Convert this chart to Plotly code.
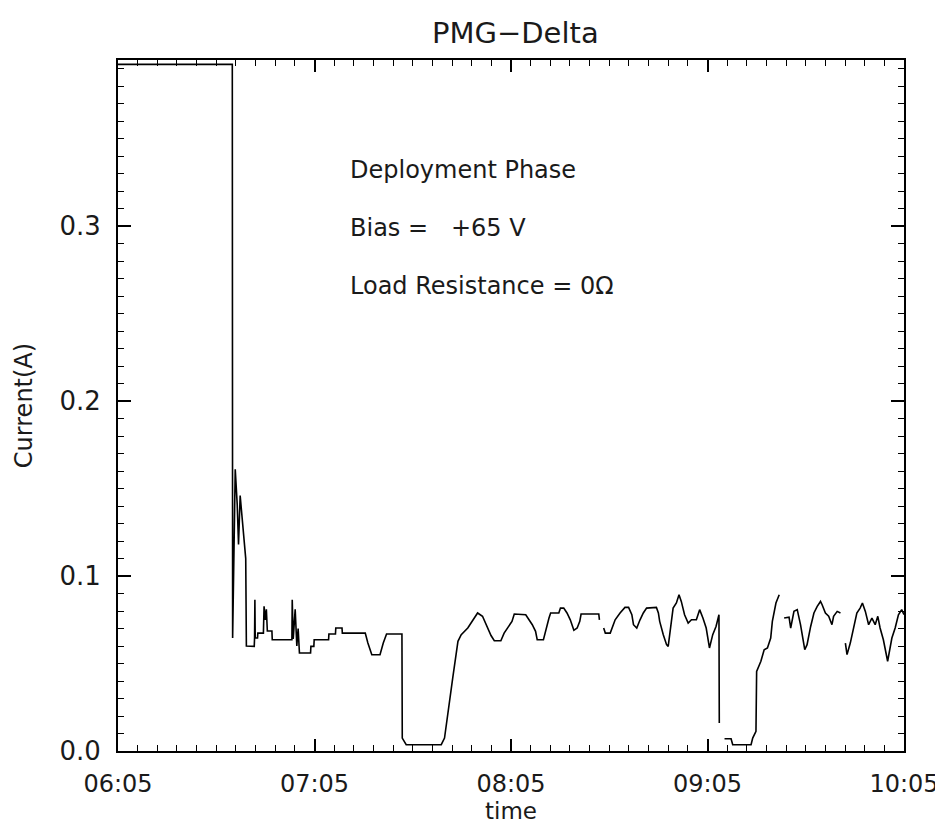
import plotly.graph_objects as go

# minutes after 06:05 and probe current in amperes (None = data gap)
minutes = [
    0, 34.9, 35.0, 35.8, 36.4, 36.8, 37.3, 37.8, 38.6, 39.0, 39.2,
    41.6, 41.7, 41.8, 41.9, 42.6, 42.7, 44.4, 44.6, 45.0, 45.3, 45.6, 47.0, 47.1,
    53.1, 53.2, 53.5, 54.1, 54.6, 55.0, 55.4, 58.8, 58.9, 59.8, 59.9,
    64.3, 64.4, 66.4, 66.5, 68.4, 68.5, 75.5, 76.3, 77.5, 80.0, 81.0, 82.0,
    86.7, 86.8, 88.0, 98.7, 99.7, 101.2, 102.2, 103.8, 104.8, 106.8, 108.3,
    109.8, 111.3, 112.4, 113.9, 114.9, 116.9, 117.9, 119.4, 120.3, 121.0,
    123.5, 124.5, 125.5, 126.5, 127.5, 128.0, 129.9, 130.6, 131.6, 132.1,
    134.6, 135.1, 136.1, 137.1, 138.1, 139.2, 140.2, 141.0, 141.4, 146.8,
    147.0, 147.6, 148.3, 148.8, 150.3, 150.8, 151.8, 153.3, 154.8, 155.9,
    156.9, 157.4, 158.4, 159.4, 160.4, 161.4, 164.4, 165.0, 165.4, 166.5,
    167.5, 168.0, 168.5, 169.5, 170.5, 171.3, 172.0, 173.0, 174.1, 175.1,
    176.6, 177.6, 178.6, 179.6, 180.6, 181.6, 182.6, 183.5, 183.6, 184.4,
    185.2, 187.2, 187.7, 193.3, 193.8, 194.8, 195.0, 195.6, 196.3, 197.3,
    198.3, 199.3, 199.8, 200.9, 201.9, 202.6, 203.4, 204.9, 205.4, 206.4,
    207.4, 208.4, 209.7, 210.4, 211.5, 212.5, 213.5, 214.5, 215.0, 216.0,
    217.0, 218.0, 218.5, 219.6, 220.6, 221.3, 222.1, 222.6, 223.6, 224.6,
    225.6, 226.6, 227.3, 228.2, 229.2, 230.2, 231.2, 232.0, 232.7, 233.7,
    235.0, 236.3, 237.3, 238.3, 239.3, 240.0,
]
current = [
    0.3925, 0.3925, 0.0646, 0.161, 0.141, 0.118, 0.146, 0.135, 0.115, 0.110, 0.060,
    0.0598, 0.0646, 0.0865, 0.0646, 0.0646, 0.0674, 0.0674, 0.0827, 0.075, 0.081, 0.0686, 0.0686, 0.0636,
    0.0636, 0.0865, 0.064, 0.081, 0.060, 0.070, 0.056, 0.056, 0.0598, 0.0598, 0.0636,
    0.0636, 0.0669, 0.0669, 0.0703, 0.0703, 0.0674, 0.0674, 0.0617, 0.055, 0.055, 0.0617, 0.0669,
    0.0669, 0.0074, 0.0036, 0.0036, 0.0074, 0.0265, 0.0417, 0.0627, 0.0665, 0.0703, 0.075,
    0.0789, 0.077, 0.0722, 0.066, 0.063, 0.063, 0.0674, 0.0712, 0.0741, 0.0783,
    0.0783, 0.0779, 0.075, 0.0722, 0.0684, 0.0636, 0.0636, 0.0693, 0.076, 0.0789,
    0.0789, 0.0817, 0.0817, 0.0789, 0.075, 0.069, 0.0703, 0.0741, 0.0783, 0.0783,
    0.075, None, 0.0703, 0.0674, 0.0674, 0.0703, 0.075, 0.0789, 0.0821, 0.0821,
    0.0779, 0.0722, 0.0703, 0.075, 0.0789, 0.0817, 0.0821, 0.0789, 0.0741, 0.0665,
    0.0608, 0.0598, 0.0684, 0.0817, 0.0846, 0.0893, 0.0855, 0.0779, 0.0731, 0.075,
    0.075, 0.0808, 0.076, 0.0703, 0.0589, 0.0665, 0.0712, 0.0779, 0.016, None,
    0.007, 0.007, 0.0036, 0.0036, 0.0074, 0.0112, 0.0455, 0.0484, 0.0513, 0.0579,
    0.0589, 0.0646, 0.0741, 0.0846, 0.0893, None, 0.076, 0.0765, 0.0703, 0.0798,
    0.0808, 0.0722, 0.0579, 0.0608, 0.0712, 0.0789, 0.0827, 0.0855, 0.0836, 0.0789,
    0.077, 0.0722, 0.077, 0.0798, 0.0789, None, 0.0617, 0.0551, 0.0617, 0.0712,
    0.0789, 0.0817, 0.0846, 0.0798, 0.0722, 0.076, 0.0722, 0.077, 0.0703, 0.0636,
    0.0513, 0.0646, 0.0703, 0.0779, 0.0808, 0.078,
]

tick_minutes = [0, 60, 120, 180, 240]
tick_labels = ["06:05", "07:05", "08:05", "09:05", "10:05"]

info_lines = ["Deployment Phase", "Bias =   +65 V", "Load Resistance = 0\u03a9"]
info_y = [0.332, 0.299, 0.266]

font = "DejaVu Sans"
ink = "#1a1a1a"

fig = go.Figure()
fig.add_trace(go.Scatter(x=minutes, y=current, mode="lines",
                         line=dict(color="black", width=1.6),
                         connectgaps=False, showlegend=False))

for txt, yy in zip(info_lines, info_y):
    fig.add_annotation(x=70.1, y=yy, text=txt, showarrow=False,
                       xanchor="left", yanchor="middle",
                       font=dict(family=font, size=24, color=ink))

fig.update_layout(
    width=943, height=827,
    margin=dict(l=110, r=44, t=52, b=84),
    plot_bgcolor="white", paper_bgcolor="white",
    font=dict(family=font, size=26, color=ink),
    title=dict(text="PMG\u2212Delta", x=0.538, xref="container", xanchor="center",
               y=0.97, yref="container", yanchor="middle",
               font=dict(family=font, size=29, color=ink)),
)

fig.update_xaxes(
    range=[0, 240], showgrid=False, zeroline=False,
    showline=True, linecolor="black", linewidth=2, mirror="ticks",
    ticks="inside", ticklen=12, tickwidth=1.5, tickcolor="black",
    tickvals=tick_minutes, ticktext=tick_labels, ticklabelstandoff=10,
    tickfont=dict(family=font, size=24, color=ink),
    minor=dict(ticks="inside", ticklen=6, tickwidth=1.2, tickcolor="black",
               dtick=6, tick0=0, showgrid=False),
    title=dict(text="time", standoff=0, font=dict(family=font, size=23, color=ink)),
)
fig.update_yaxes(
    range=[0, 0.395], showgrid=False, zeroline=False,
    showline=True, linecolor="black", linewidth=2, mirror="ticks",
    ticks="inside", ticklen=13, tickwidth=1.5, tickcolor="black",
    dtick=0.1, tick0=0, tickformat=".1f", ticklabelstandoff=10,
    tickfont=dict(family=font, size=26, color=ink),
    minor=dict(ticks="inside", ticklen=6, tickwidth=1.2, tickcolor="black",
               dtick=0.01, tick0=0, showgrid=False),
    title=dict(text="Current(A)", standoff=20, font=dict(family=font, size=24, color=ink)),
)

fig.write_html("out.html")
